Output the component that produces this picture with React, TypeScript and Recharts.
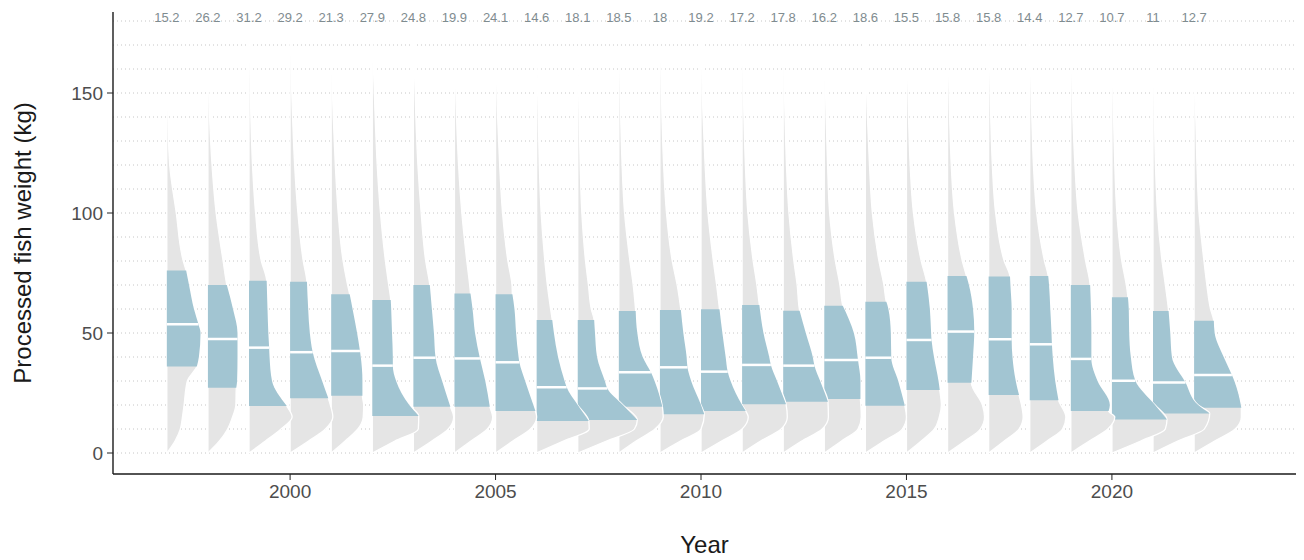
import React from 'react';
import { ComposedChart, Area, Line, XAxis, YAxis, CartesianGrid, ReferenceDot } from 'recharts';

// one half-violin per year
const years = [
  1997, 1998, 1999, 2000, 2001, 2002, 2003, 2004, 2005, 2006, 2007, 2008, 2009,
  2010, 2011, 2012, 2013, 2014, 2015, 2016, 2017, 2018, 2019, 2020, 2021, 2022,
];

// numbers printed above each violin
const topLabels = [
  '15.2', '26.2', '31.2', '29.2', '21.3', '27.9', '24.8', '19.9', '24.1', '14.6', '18.1', '18.5', '18',
  '19.2', '17.2', '17.8', '16.2', '18.6', '15.5', '15.8', '15.8', '14.4', '12.7', '10.7', '11', '12.7',
];

// weight levels (kg) where the density width is sampled
const levels = [0, 5, 10, 15, 20, 30, 40, 50, 60, 70, 80, 100, 120, 140];

// density width at each level, in years of x-axis
const widths = [
  [0, 0.2, 0.33, 0.38, 0.42, 0.5, 0.78, 0.82, 0.66, 0.54, 0.4, 0.23, 0.07, 0.025],
  [0, 0.28, 0.48, 0.6, 0.68, 0.71, 0.72, 0.72, 0.61, 0.46, 0.37, 0.2, 0.1, 0.04],
  [0, 0.4, 0.78, 1.05, 0.9, 0.56, 0.5, 0.47, 0.45, 0.43, 0.3, 0.16, 0.085, 0.045],
  [0, 0.45, 0.86, 1.04, 0.98, 0.78, 0.6, 0.48, 0.44, 0.42, 0.32, 0.19, 0.11, 0.06],
  [0, 0.34, 0.65, 0.78, 0.79, 0.76, 0.72, 0.63, 0.52, 0.4, 0.29, 0.17, 0.1, 0.05],
  [0, 0.55, 1.12, 1.15, 0.9, 0.58, 0.5, 0.48, 0.46, 0.4, 0.32, 0.2, 0.12, 0.07],
  [0, 0.45, 0.85, 0.98, 0.9, 0.7, 0.55, 0.5, 0.45, 0.4, 0.3, 0.19, 0.11, 0.06],
  [0, 0.4, 0.8, 0.93, 0.86, 0.75, 0.62, 0.5, 0.44, 0.37, 0.3, 0.18, 0.1, 0.05],
  [0, 0.42, 0.85, 1.0, 0.92, 0.72, 0.56, 0.5, 0.46, 0.4, 0.3, 0.17, 0.1, 0.05],
  [0, 0.65, 1.28, 1.25, 1.0, 0.68, 0.52, 0.42, 0.34, 0.26, 0.2, 0.11, 0.065, 0.04],
  [0, 0.7, 1.38, 1.45, 1.1, 0.66, 0.47, 0.42, 0.33, 0.26, 0.19, 0.1, 0.06, 0.035],
  [0, 0.42, 0.88, 1.08, 1.05, 0.87, 0.58, 0.45, 0.42, 0.35, 0.27, 0.14, 0.08, 0.045],
  [0, 0.5, 1.0, 1.18, 1.0, 0.76, 0.65, 0.57, 0.51, 0.42, 0.3, 0.16, 0.09, 0.05],
  [0, 0.5, 1.0, 1.15, 1.0, 0.72, 0.6, 0.52, 0.45, 0.38, 0.3, 0.17, 0.1, 0.05],
  [0, 0.45, 0.95, 1.1, 1.07, 0.85, 0.66, 0.52, 0.43, 0.36, 0.27, 0.14, 0.08, 0.045],
  [0, 0.45, 0.95, 1.1, 1.1, 0.9, 0.72, 0.55, 0.41, 0.34, 0.26, 0.14, 0.08, 0.045],
  [0, 0.42, 0.82, 0.9, 0.89, 0.88, 0.84, 0.72, 0.47, 0.38, 0.27, 0.13, 0.08, 0.045],
  [0, 0.45, 0.9, 1.0, 0.96, 0.8, 0.64, 0.62, 0.56, 0.45, 0.33, 0.17, 0.1, 0.05],
  [0, 0.36, 0.68, 0.8, 0.85, 0.78, 0.67, 0.6, 0.57, 0.5, 0.36, 0.17, 0.09, 0.05],
  [0, 0.42, 0.8, 0.9, 0.85, 0.62, 0.62, 0.65, 0.62, 0.52, 0.36, 0.17, 0.09, 0.05],
  [0, 0.38, 0.74, 0.84, 0.8, 0.66, 0.58, 0.56, 0.56, 0.53, 0.38, 0.17, 0.09, 0.05],
  [0, 0.42, 0.8, 0.88, 0.78, 0.62, 0.56, 0.53, 0.5, 0.47, 0.36, 0.17, 0.09, 0.05],
  [0, 0.45, 0.9, 1.07, 0.95, 0.65, 0.5, 0.5, 0.49, 0.47, 0.36, 0.18, 0.1, 0.05],
  [0, 0.7, 1.3, 1.38, 1.05, 0.57, 0.46, 0.42, 0.41, 0.35, 0.24, 0.12, 0.07, 0.04],
  [0, 0.6, 1.25, 1.45, 1.1, 0.8, 0.46, 0.42, 0.37, 0.3, 0.22, 0.11, 0.06, 0.035],
  [0, 0.5, 1.0, 1.15, 1.15, 0.98, 0.72, 0.5, 0.4, 0.31, 0.24, 0.12, 0.07, 0.04],
];

// quartiles (kg)
const q1 = [36, 27.2, 19.6, 22.8, 23.9, 15.4, 19.3, 19.3, 17.5, 13.3, 13.75, 19.3, 16.1, 17.5, 20.3, 21.4, 22.5, 19.7, 26.25, 29.3, 24.2, 22, 17.5, 14, 16.5, 18.9];
const medians = [53.6, 47.5, 43.9, 42, 42.5, 36.4, 39.7, 39.4, 37.8, 27.4, 26.9, 33.6, 35.7, 33.9, 36.7, 36.4, 38.75, 39.7, 47.1, 50.6, 47.4, 45.3, 39.2, 30.1, 29.4, 32.5];
const q3 = [76, 70, 71.8, 71.4, 66.1, 63.75, 70, 66.5, 66.1, 55.4, 55.4, 59.2, 59.6, 59.9, 61.7, 59.3, 61.4, 63, 71.4, 73.75, 73.5, 73.75, 70, 64.9, 59.2, 55.1];

// density width at the quartiles
const q1Width = [0.73, 0.69, 0.92, 0.93, 0.76, 1.13, 0.9, 0.86, 0.97, 1.27, 1.45, 1.06, 1.08, 1.09, 1.07, 1.09, 0.88, 0.96, 0.81, 0.58, 0.74, 0.7, 0.92, 1.34, 1.38, 1.15];
const medianWidth = [0.77, 0.72, 0.49, 0.55, 0.7, 0.5, 0.54, 0.62, 0.58, 0.73, 0.72, 0.78, 0.67, 0.65, 0.7, 0.76, 0.82, 0.63, 0.61, 0.65, 0.56, 0.54, 0.5, 0.57, 0.79, 0.92];
const q3Width = [0.47, 0.46, 0.43, 0.41, 0.45, 0.45, 0.4, 0.39, 0.41, 0.38, 0.4, 0.41, 0.51, 0.45, 0.42, 0.4, 0.45, 0.51, 0.49, 0.46, 0.52, 0.45, 0.47, 0.39, 0.38, 0.48];

// heaviest fish per year (tail tip)
const maxWeight = [170, 165, 178, 178, 168, 175, 175, 178, 178, 165, 165, 178, 178, 175, 175, 175, 172, 172, 178, 178, 178, 172, 178, 165, 165, 155];

const yTicks = [0, 50, 100, 150];
const xTicks = [2000, 2005, 2010, 2015, 2020];
const gridLevels = [0, 10, 20, 30, 40, 50, 60, 70, 80, 90, 100, 110, 120, 130, 140, 150, 160, 170, 180];
const labelLevel = 181.5;

const FONT = '"Liberation Sans", Arial, sans-serif';
const GREY = '#e5e5e5';
const BLUE = '#a2c5d2';
const LABEL = '#7f8c90';

type Pt = { kg: number; w: number };

const violins = years.map((year, i) => {
  const stats: Pt[] = [
    { kg: q1[i], w: q1Width[i] },
    { kg: medians[i], w: medianWidth[i] },
    { kg: q3[i], w: q3Width[i] },
  ];
  const pts: Pt[] = levels
    .map((kg, j) => ({ kg, w: widths[i][j] }))
    .filter((p) => stats.every((s) => Math.abs(s.kg - p.kg) > 2))
    .concat(stats, [{ kg: maxWeight[i], w: 0 }])
    .sort((a, b) => a.kg - b.kg);
  const profile = pts.map((p) => ({ kg: p.kg, span: [year, year + p.w] }));
  const box = profile.filter((p) => p.kg >= q1[i] && p.kg <= q3[i]);
  const median = [
    { kg: medians[i], v: year },
    { kg: medians[i], v: year + medianWidth[i] },
  ];
  return { year, profile, box, median };
});

export default function App() {
  return (
    <div style={{ position: 'absolute', left: 0, top: 0, background: '#fff' }}>
      <ComposedChart
        layout="vertical"
        width={1304}
        height={560}
        margin={{ top: 12, right: 8, bottom: 0, left: 0 }}
        style={{ fontFamily: FONT }}
      >
        <CartesianGrid
          vertical={false}
          horizontalValues={gridLevels}
          stroke="#c6c6c6"
          strokeDasharray="1 3"
        />
        <XAxis
          type="number"
          domain={[1995.69, 2024.48]}
          allowDataOverflow
          ticks={xTicks}
          height={86}
          tickSize={6}
          tickMargin={5}
          tick={{ fill: '#4d4d4d', fontSize: 19 }}
          tickLine={{ stroke: '#222' }}
          axisLine={{ stroke: '#1a1a1a', strokeWidth: 1.4 }}
          label={{ value: 'Year', position: 'insideBottom', offset: 7, fill: '#1a1a1a', fontSize: 24 }}
        />
        <YAxis
          type="number"
          dataKey="kg"
          reversed
          domain={[-8.75, 183.75]}
          allowDataOverflow
          ticks={yTicks}
          width={113}
          tickSize={6}
          tickMargin={4}
          tick={{ fill: '#4d4d4d', fontSize: 19 }}
          tickLine={{ stroke: '#222' }}
          axisLine={{ stroke: '#1a1a1a', strokeWidth: 1.4 }}
          label={{
            value: 'Processed fish weight (kg)',
            angle: -90,
            position: 'insideLeft',
            offset: 22,
            fill: '#1a1a1a',
            fontSize: 24,
            style: { textAnchor: 'middle' },
          }}
        />
        {[...violins].reverse().flatMap((v) => [
          <Area
            key={`d${v.year}`}
            data={v.profile}
            dataKey="span"
            type="monotone"
            fill={GREY}
            fillOpacity={1}
            stroke="#fff"
            strokeWidth={1.3}
            dot={false}
            activeDot={false}
            isAnimationActive={false}
          />,
          <Area
            key={`q${v.year}`}
            data={v.box}
            dataKey="span"
            type="monotone"
            fill={BLUE}
            fillOpacity={1}
            stroke="none"
            dot={false}
            activeDot={false}
            isAnimationActive={false}
          />,
        ])}
        {violins.map((v) => (
          <Line
            key={`m${v.year}`}
            data={v.median}
            dataKey="v"
            stroke="#fff"
            strokeWidth={2.5}
            dot={false}
            activeDot={false}
            isAnimationActive={false}
          />
        ))}
        {years.map((year, i) => (
          <ReferenceDot
            key={`t${year}`}
            x={year}
            y={labelLevel}
            r={0}
            fill="none"
            stroke="none"
            label={{ value: topLabels[i], position: 'center', fill: LABEL, fontSize: 13 }}
          />
        ))}
      </ComposedChart>
    </div>
  );
}
